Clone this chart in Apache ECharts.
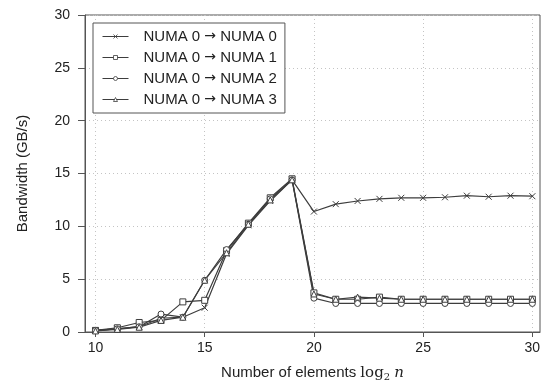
<!DOCTYPE html>
<html>
<head>
<meta charset="utf-8">
<script src="https://cdn.jsdelivr.net/npm/echarts@6/dist/echarts.min.js"></script>
<style>
  html, body { margin: 0; padding: 0; background: #fff; }
  #chart { width: 551px; height: 389px; }
</style>
</head>
<body>
<div id="chart"></div>
<script>
// == Data =====================================================================

const log2n = [10, 11, 12, 13, 14, 15, 16, 17, 18, 19, 20, 21, 22, 23, 24, 25, 26, 27, 28, 29, 30]
const seriesNames = ['NUMA 0 \u2192 NUMA 0', 'NUMA 0 \u2192 NUMA 1', 'NUMA 0 \u2192 NUMA 2', 'NUMA 0 \u2192 NUMA 3']
const numa0 = [0.15, 0.3, 0.5, 1.3, 1.4, 2.3, 7.4, 10.1, 12.4, 14.4, 11.4, 12.1, 12.4, 12.6, 12.7, 12.7, 12.75, 12.9, 12.8, 12.9, 12.85]
const numa1 = [0.15, 0.4, 0.9, 1.1, 2.85, 3.0, 7.7, 10.3, 12.7, 14.5, 3.7, 3.1, 3.1, 3.3, 3.1, 3.1, 3.1, 3.1, 3.1, 3.1, 3.1]
const numa2 = [0.15, 0.3, 0.5, 1.7, 1.4, 4.9, 7.8, 10.2, 12.6, 14.4, 3.2, 2.7, 2.7, 2.7, 2.7, 2.7, 2.7, 2.7, 2.7, 2.7, 2.7]
const numa3 = [0.1, 0.25, 0.45, 1.1, 1.4, 4.9, 7.5, 10.2, 12.5, 14.4, 3.6, 3.1, 3.3, 3.2, 3.1, 3.1, 3.1, 3.1, 3.1, 3.1, 3.1]
const xTicks = [10, 15, 20, 25, 30]
const yTicks = [0, 5, 10, 15, 20, 25, 30]

// == Styling ==================================================================

const FONT = 'Liberation Sans'
const INK = '#3d3d3d'
const markers = [
  'path://M0,0L10,10M10,0L0,10',
  'path://M0,0L10,0L10,10L0,10Z',
  'path://M5,0A5,5 0 1,1 4.99,0Z',
  'path://M5,0L10,9L0,9Z'
]
const values = [numa0, numa1, numa2, numa3]

const series = values.map((vals, i) => ({
  name: seriesNames[i],
  type: 'line',
  data: log2n.map((x, j) => [x, vals[j]]),
  symbol: markers[i],
  symbolSize: 6,
  showAllSymbol: true,
  lineStyle: { color: INK, width: 1.2 },
  itemStyle: { color: i === 0 ? 'none' : '#fff', borderColor: INK, borderWidth: 1 },
  emphasis: { disabled: true },
  animation: false
}))

const chart = echarts.init(document.getElementById('chart'))
chart.setOption({
  backgroundColor: '#fff',
  textStyle: { fontFamily: FONT },
  grid: {
    left: 85, right: 11, top: 15, bottom: 57,
    show: true, borderColor: '#555', borderWidth: 1
  },
  legend: {
    orient: 'vertical',
    left: 93, top: 23,
    padding: [5, 8, 5, 9],
    itemGap: 4,
    itemWidth: 26,
    itemHeight: 5,
    borderColor: '#555',
    borderWidth: 1,
    borderRadius: 0,
    backgroundColor: '#fff',
    lineStyle: { width: 1 },
    itemStyle: { borderWidth: 0.8 },
    formatter: name => name.replace('\u2192', '{a|\u2192}'),
    textStyle: {
      fontFamily: FONT, fontSize: 15, color: '#222', lineHeight: 17, padding: [0, 0, 0, 10],
      rich: { a: { fontFamily: 'DejaVu Sans', fontSize: 14, color: '#222', lineHeight: 17 } }
    },
    data: seriesNames
  },
  xAxis: {
    type: 'value',
    min: 9.52,
    max: 30.35,
    name: '{t|Number of elements }{m|log}{s|2}{t| }{i|n}',
    nameLocation: 'middle',
    nameGap: 32,
    nameTextStyle: {
      rich: {
        t: { fontFamily: FONT, fontSize: 15, color: '#222' },
        m: { fontFamily: 'DejaVu Serif', fontSize: 15, color: '#222' },
        s: { fontFamily: 'DejaVu Serif', fontSize: 10, color: '#222', verticalAlign: 'bottom', padding: [8, 0, 0, 0] },
        i: { fontFamily: 'DejaVu Serif', fontStyle: 'italic', fontSize: 15, color: '#222' }
      }
    },
    axisLine: { lineStyle: { color: '#555' } },
    axisTick: { customValues: xTicks, length: 5, lineStyle: { color: '#555' } },
    axisLabel: { customValues: xTicks, fontSize: 14, color: '#222', margin: 9 },
    splitLine: { show: true, lineStyle: { color: '#c4c4c4', type: [1, 3] } }
  },
  yAxis: {
    type: 'value',
    min: 0,
    max: 30,
    interval: 5,
    name: 'Bandwidth (GB/s)',
    nameLocation: 'middle',
    nameGap: 55,
    nameTextStyle: { fontFamily: FONT, fontSize: 15, color: '#222' },
    axisLine: { show: true, lineStyle: { color: '#555' } },
    axisTick: { show: true, length: 7, lineStyle: { color: '#555' } },
    axisLabel: { fontSize: 14, color: '#222', margin: 15, customValues: yTicks },
    splitLine: { show: true, lineStyle: { color: '#c4c4c4', type: [1, 3] } }
  },
  series
})
</script>
</body>
</html>
